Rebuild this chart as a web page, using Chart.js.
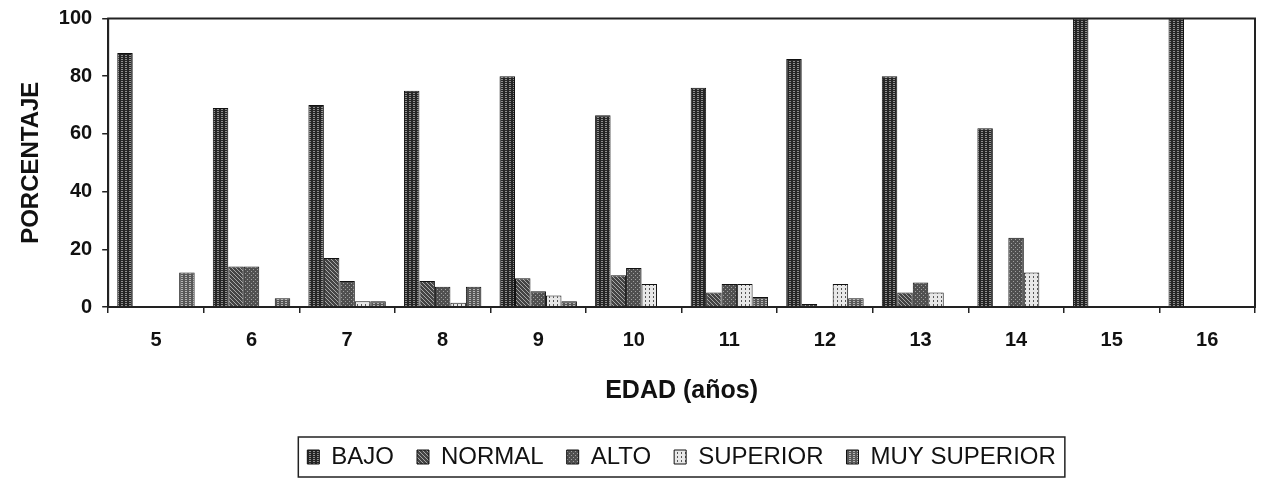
<!DOCTYPE html>
<html>
<head>
<meta charset="utf-8">
<script src="https://cdn.jsdelivr.net/npm/chart.js@4.4.1/dist/chart.umd.min.js"></script>
<style>
  html, body { margin: 0; padding: 0; background: #fff; }
  #wrap { width: 1263px; height: 481px; }
</style>
</head>
<body>
<div id="wrap"><canvas id="chart" width="1263" height="481"></canvas></div>
<script>
const edades = ['5', '6', '7', '8', '9', '10', '11', '12', '13', '14', '15', '16'];
const bajo        = [88, 69, 70, 75, 80, 66.5, 76, 86, 80, 62, 100, 100];
const normal      = [0, 14, 17, 9, 10, 11, 5, 1, 5, 0, 0, 0];
const alto        = [0, 14, 9, 7, 5.5, 13.5, 8, 0, 8.5, 24, 0, 0];
const superior    = [0, 0, 2, 1.5, 4, 8, 8, 8, 5, 12, 0, 0];
const muySuperior = [12, 3, 2, 7, 2, 0, 3.5, 3, 0, 0, 0, 0];
const yTicks = [0, 20, 40, 60, 80, 100];

const FONT = 'Liberation Sans, Arial, sans-serif';

// small tiles that imitate the printed textures
function makePattern(bg, fg, kind) {
  const c = document.createElement('canvas');
  c.width = 4; c.height = 4;
  const g = c.getContext('2d');
  g.fillStyle = bg;
  g.fillRect(0, 0, 4, 4);
  g.fillStyle = fg;
  if (kind === 'brick') {
    g.fillRect(1, 1, 2, 1);
    g.fillRect(1, 3, 2, 1);
  } else if (kind === 'diag') {
    g.fillRect(0, 0, 1, 1);
    g.fillRect(1, 1, 1, 1);
    g.fillRect(2, 2, 1, 1);
    g.fillRect(3, 3, 1, 1);
  } else if (kind === 'dots') {
    g.fillRect(1, 1, 1, 1);
    g.fillRect(3, 3, 1, 1);
  } else if (kind === 'vert') {
    g.fillRect(1, 0, 1, 2);
  }
  return g.createPattern(c, 'repeat');
}

const fills = [
  makePattern('#262626', '#8f8f8f', 'brick'),
  makePattern('#444444', '#a8a8a8', 'diag'),
  makePattern('#505050', '#a0a0a0', 'dots'),
  makePattern('#e8e8e8', '#555555', 'vert'),
  makePattern('#585858', '#b5b5b5', 'brick')
];

const frame = {
  id: 'frame',
  afterDraw(chart) {
    const { ctx, chartArea: a, legend } = chart;
    ctx.save();
    ctx.strokeStyle = '#222';
    ctx.lineWidth = 2;
    ctx.strokeRect(a.left, a.top, a.right - a.left, a.bottom - a.top);
    const boxes = legend.legendHitBoxes;
    if (boxes && boxes.length) {
      const x0 = Math.min(...boxes.map(b => b.left)) - 9;
      const x1 = Math.max(...boxes.map(b => b.left + b.width)) + 9;
      const y0 = Math.min(...boxes.map(b => b.top)) - 8;
      const y1 = Math.max(...boxes.map(b => b.top + b.height)) + 8;
      ctx.lineWidth = 1.5;
      ctx.strokeRect(x0, y0, x1 - x0, y1 - y0);
    }
    ctx.restore();
  }
};

const names = ['BAJO', 'NORMAL', 'ALTO', 'SUPERIOR', 'MUY SUPERIOR'];
const series = [bajo, normal, alto, superior, muySuperior];

new Chart(document.getElementById('chart'), {
  type: 'bar',
  data: {
    labels: edades,
    datasets: series.map((vals, i) => ({
      label: names[i],
      data: vals,
      backgroundColor: fills[i],
      borderColor: '#111',
      borderWidth: 1,
      categoryPercentage: 0.81,
      barPercentage: 1
    }))
  },
  options: {
    responsive: false,
    animation: false,
    layout: { padding: { left: 4, right: 8, top: 1, bottom: 2 } },
    plugins: {
      tooltip: { enabled: false },
      legend: {
        position: 'bottom',
        fullSize: false,
        labels: {
          color: '#111',
          font: { family: FONT, size: 24 },
          boxWidth: 12,
          boxHeight: 14,
          padding: 23
        }
      }
    },
    scales: {
      x: {
        offset: true,
        grid: { display: true, drawOnChartArea: false, offset: true, tickLength: 6, color: '#222', lineWidth: 1.5 },
        border: { color: '#222', width: 2 },
        ticks: { color: '#111', padding: 15, font: { family: FONT, size: 20, weight: 'bold' } },
        title: {
          display: true,
          text: 'EDAD (años)',
          color: '#111',
          font: { family: FONT, size: 25, weight: 'bold' },
          padding: { top: 9, bottom: 16 }
        }
      },
      y: {
        min: 0,
        max: 100,
        afterBuildTicks(axis) { axis.ticks = yTicks.map(v => ({ value: v })); },
        grid: { display: true, drawOnChartArea: false, tickLength: 6, color: '#222', lineWidth: 1.5 },
        border: { color: '#222', width: 2 },
        ticks: { color: '#111', padding: 10, font: { family: FONT, size: 20, weight: 'bold', lineHeight: 0.85 } },
        title: {
          display: true,
          text: 'PORCENTAJE',
          color: '#111',
          font: { family: FONT, size: 24, weight: 'bold' },
          padding: { top: 13, bottom: 3 }
        }
      }
    }
  },
  plugins: [frame]
});
</script>
</body>
</html>
